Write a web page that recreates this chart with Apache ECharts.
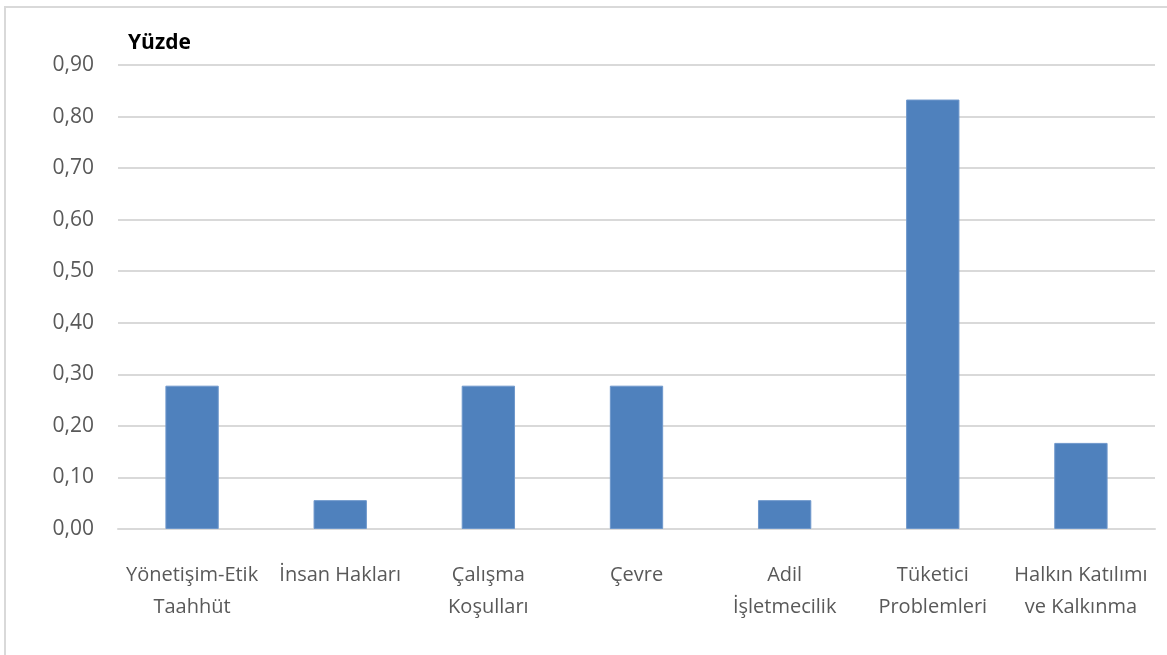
<!DOCTYPE html>
<html>
<head>
<meta charset="utf-8">
<script src="https://cdn.jsdelivr.net/npm/echarts@6/dist/echarts.min.js"></script>
<style>html,body{margin:0;padding:0;background:#fff;}#c{width:1167px;height:655px;}</style>
</head>
<body>
<div id="c"></div>
<script>
const categories = ["Yönetişim-Etik\nTaahhüt", "İnsan Hakları", "Çalışma\nKoşulları", "Çevre", "Adil\nİşletmecilik", "Tüketici\nProblemleri", "Halkın Katılımı\nve Kalkınma"];
const values = [0.278, 0.056, 0.278, 0.278, 0.056, 0.833, 0.167];
const yTicks = [0, 0.1, 0.2, 0.3, 0.4, 0.5, 0.6, 0.7, 0.8, 0.9];

const chart = echarts.init(document.getElementById('c'));
const FONT = '"Open Sans", sans-serif';
chart.setOption({
  animation: false,
  graphic: [{
    type: 'rect', shape: {x: 5, y: 7, width: 1180, height: 700},
    style: {fill: 'none', stroke: '#d9d9d9', lineWidth: 2}, silent: true
  }],
  title: {
    text: 'Yüzde', left: 123, top: 28,
    textStyle: {fontFamily: FONT, fontWeight: 'bold', fontSize: 21, color: '#000'}
  },
  grid: {left: 118, right: 12, top: 65, bottom: 126, containLabel: false},
  xAxis: {
    type: 'category', data: categories,
    axisLine: {lineStyle: {color: '#d9d9d9', width: 2}},
    axisTick: {show: false},
    axisLabel: {
      interval: 0, margin: 30, fontFamily: FONT, fontSize: 20, color: '#595959',
      lineHeight: 32
    }
  },
  yAxis: {
    type: 'value', min: 0, max: 0.9, interval: 0.1,
    axisLine: {show: false}, axisTick: {show: false},
    splitLine: {lineStyle: {color: '#d9d9d9', width: 2}},
    axisLabel: {
      margin: 24, fontFamily: FONT, fontSize: 21, color: '#595959',
      formatter: v => {
        const t = yTicks.find(x => Math.abs(x - v) < 1e-9);
        return (t === undefined ? v : t).toFixed(2).replace('.', ',');
      }
    }
  },
  series: [{
    type: 'bar', data: values, barWidth: '36%',
    itemStyle: {color: '#4f81bd', borderColor: '#6f98cc', borderWidth: 1}
  }]
});
</script>
</body>
</html>
